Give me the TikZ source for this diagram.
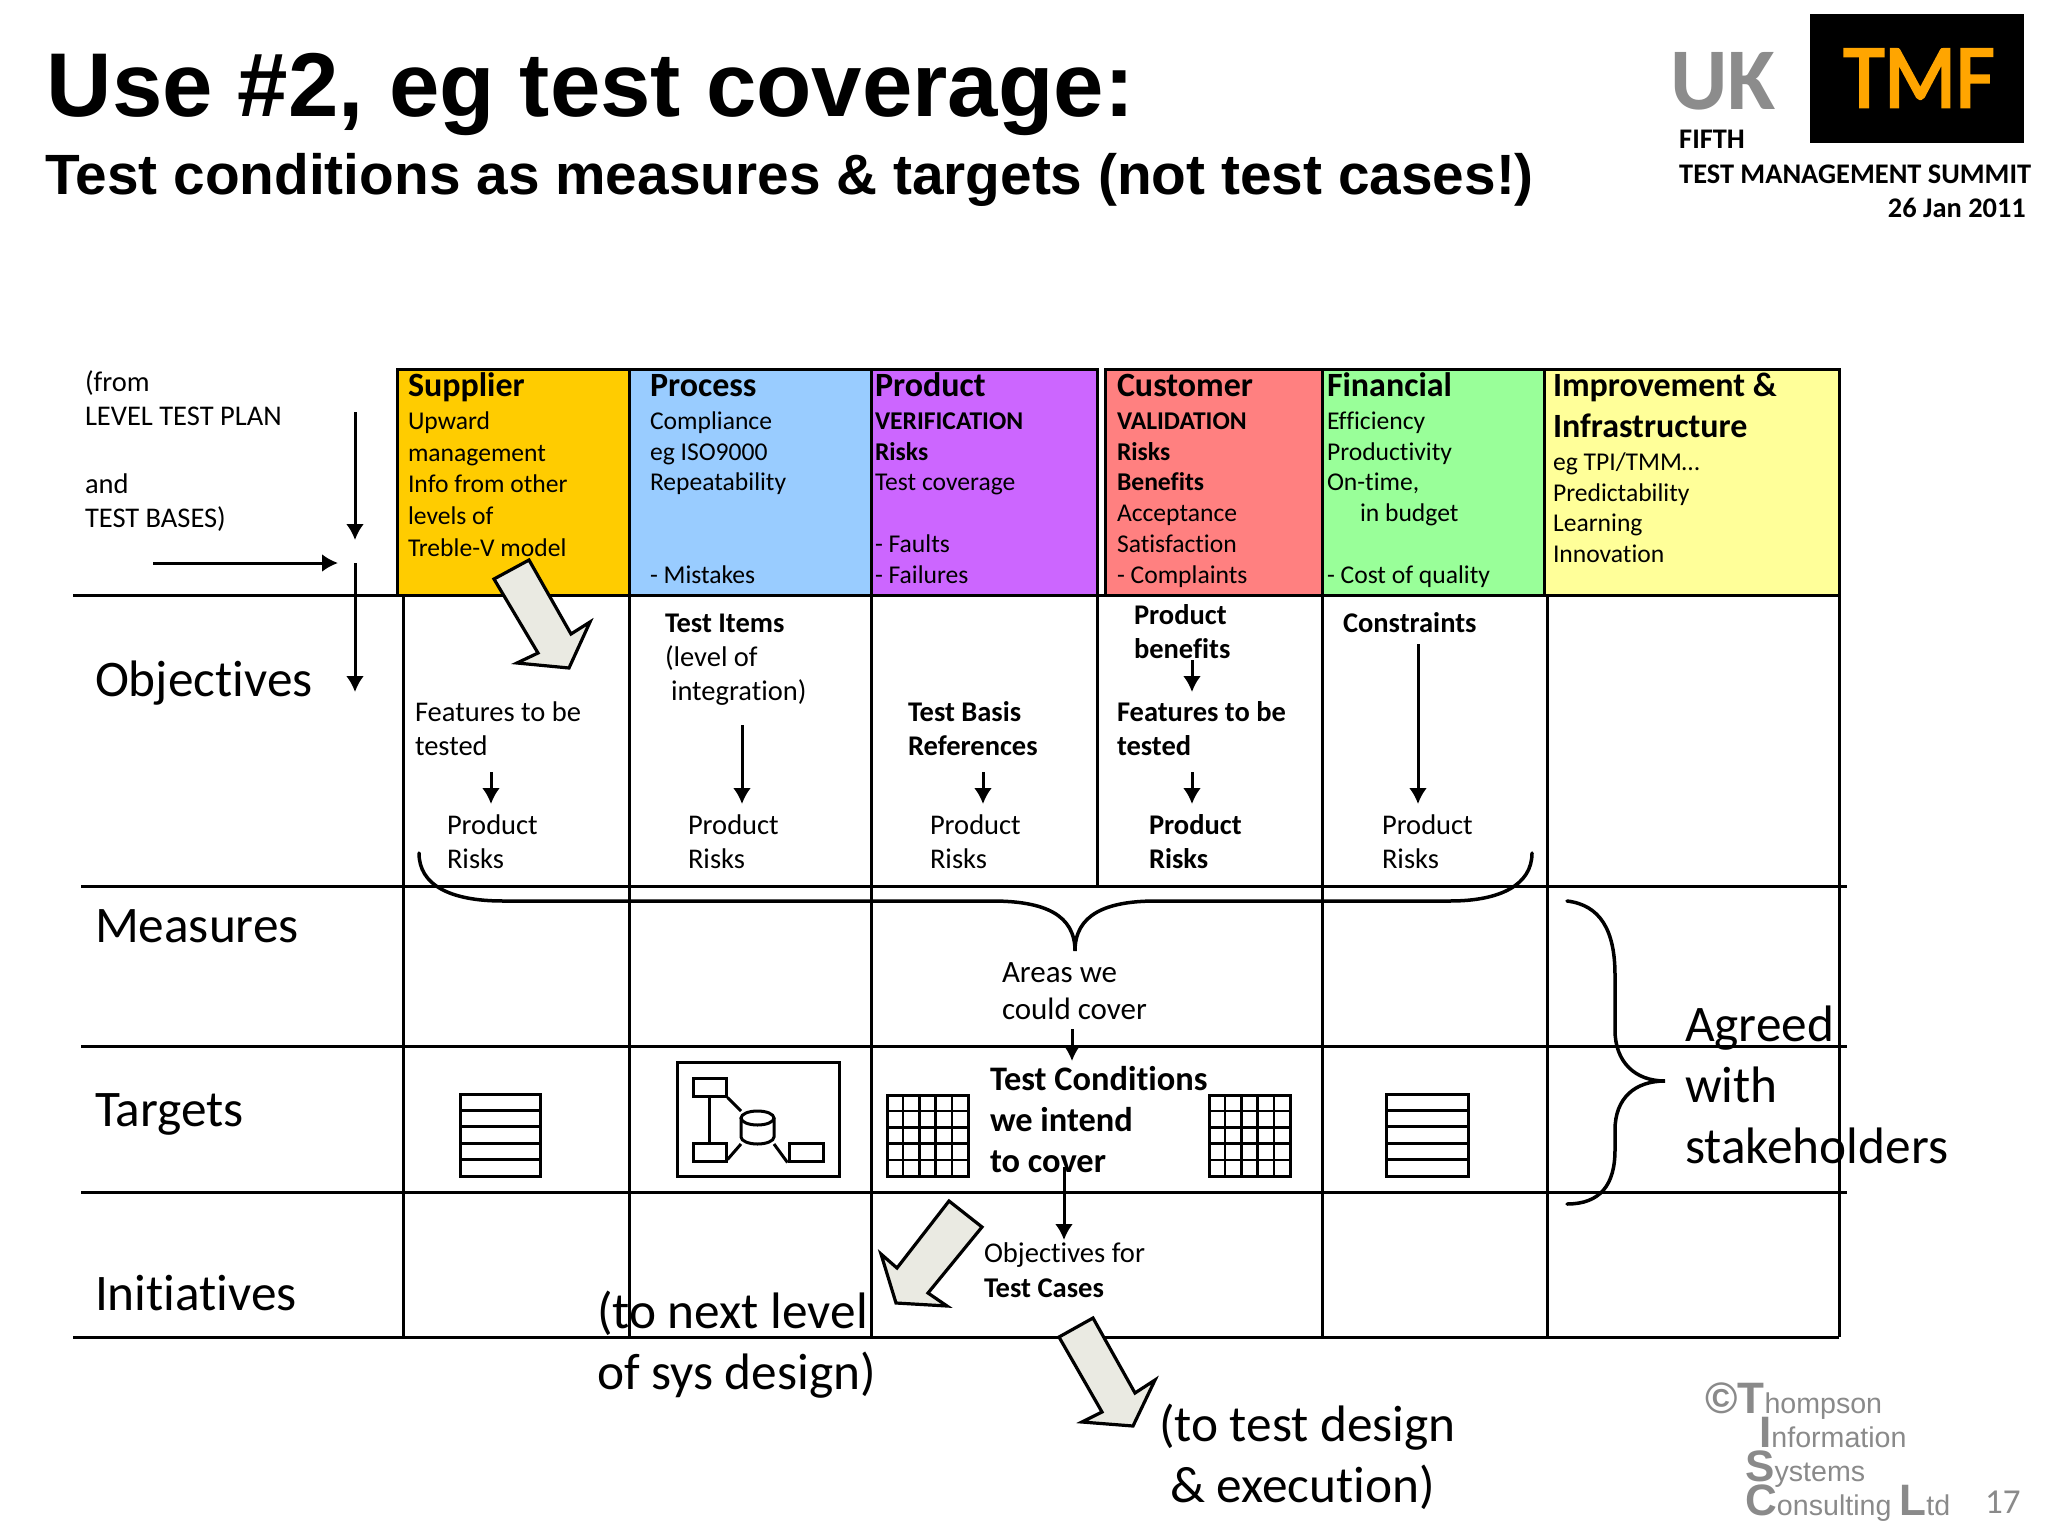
\documentclass[tikz,border=0pt]{standalone}
\usepackage{fontspec}
\setmainfont{Carlito}[Ligatures=NoCommon]
\newfontfamily\arialf{Liberation Sans}
\usetikzlibrary{arrows.meta}
\newcommand\fl{\rule{0pt}{\flh}}
\tikzset{
  x=1pt,y=-1pt,
  txt/.style={inner sep=0pt,outer sep=0pt,anchor=north west,align=left},
  cell/.style={txt,yshift=26.6pt,font=\fontsize{28.5}{34}\selectfont,execute at begin node={\def\flh{28pt}\fl}},
  hsub/.style={txt,yshift=24.7pt,font=\fontsize{25.6}{30.8}\selectfont,execute at begin node={\def\flh{26pt}\fl}},
  hbold/.style={txt,yshift=32.7pt,font=\fontsize{34}{41}\selectfont\bfseries,execute at begin node={\def\flh{34pt}\fl}},
  big/.style={txt,yshift=50pt,font=\fontsize{51.3}{61}\selectfont,execute at begin node={\def\flh{50pt}\fl}},
  tc/.style={txt,yshift=31.7pt,font=\fontsize{34.4}{41}\selectfont\bfseries,execute at begin node={\def\flh{34pt}\fl}},
  areas/.style={txt,yshift=29.5pt,font=\fontsize{31}{37}\selectfont,execute at begin node={\def\flh{32pt}\fl}},
  objc/.style={txt,yshift=26pt,font=\fontsize{28.6}{35}\selectfont,execute at begin node={\def\flh{28pt}\fl}},
  hbox/.style={draw=black,line width=3pt},
  gridl/.style={draw=black,line width=3pt},
  conn/.style={draw=black,line width=3pt,-{Latex[length=16pt,width=18pt]}},
  fat/.style={draw=black,line width=3.2pt,fill=arrowfill,line join=miter},
  icon/.style={draw=black,line width=3pt},
  brace/.style={draw=black,line width=3.5pt,line cap=round},
  gray1/.style={text=logogray},
}
\definecolor{arrowfill}{HTML}{EAEAE2}
\definecolor{logogray}{HTML}{8A8A8A}
\definecolor{tmfo}{HTML}{FFA500}
\definecolor{csup}{HTML}{FFCC00}
\definecolor{cpro}{HTML}{99CCFF}
\definecolor{cprd}{HTML}{CC66FF}
\definecolor{ccus}{HTML}{FF8080}
\definecolor{cfin}{HTML}{99FF99}
\definecolor{cimp}{HTML}{FFFF99}
\begin{document}
\begin{tikzpicture}
\useasboundingbox (0,0) rectangle (2048,1536);
\fill[white] (0,0) rectangle (2048,1536);
% title
\node[inner sep=0pt,anchor=base west] (title) at (46.5,117) {\fontsize{90.6}{100}\selectfont\arialf\bfseries Use \#2, eg test coverage:};
\node[inner sep=0pt,anchor=base west] (subtitle) at (45,194) {\fontsize{56.8}{70}\selectfont\arialf\bfseries Test conditions as measures \& targets (not test cases!)};
% logo
\node[inner sep=0pt,anchor=base west,text=gray!90] (uk) at (1670,110) {\fontsize{88}{90}\selectfont\bfseries UK};
\fill[black] (1810,14) rectangle (2024,143);
\node[inner sep=0pt,anchor=base,text=tmfo] (tmf) at (1919,107) {\scalebox{0.93}[1]{\fontsize{90}{90}\selectfont\addfontfeature{FakeBold=3}TMF}};
\node[inner sep=0pt,anchor=base west] (fifth) at (1679,149) {\fontsize{28.4}{30}\selectfont\bfseries FIFTH};
\node[inner sep=0pt,anchor=base west] (summit) at (1679,183) {\fontsize{28.4}{30}\selectfont\bfseries TEST MANAGEMENT SUMMIT};
\node[inner sep=0pt,anchor=base east] (date) at (2026,217) {\fontsize{28.4}{30}\selectfont\bfseries 26 Jan 2011};
% headers
\draw[hbox,fill=csup] (397,369) rectangle (629,595);
\draw[hbox,fill=cpro] (629,369) rectangle (871,595);
\draw[hbox,fill=cprd] (871,369) rectangle (1097,595);
\draw[hbox,fill=ccus] (1105,369) rectangle (1322,595);
\draw[hbox,fill=cfin] (1322,369) rectangle (1544,595);
\draw[hbox,fill=cimp] (1544,369) rectangle (1839,595);
% grid
\draw[gridl] (73,595) -- (1839,595);
\draw[gridl] (81,886) -- (1847,886);
\draw[gridl] (81,1046) -- (1847,1046);
\draw[gridl] (81,1192) -- (1847,1192);
\draw[gridl] (73,1337) -- (1839,1337);
\draw[gridl] (403,595) -- (403,1337);
\draw[gridl] (629,595) -- (629,1337);
\draw[gridl] (871,595) -- (871,1337);
\draw[gridl] (1097,595) -- (1097,886);
\draw[gridl] (1322,595) -- (1322,1337);
\draw[gridl] (1547,595) -- (1547,1337);
\draw[gridl] (1839,595) -- (1839,1337);
% header texts
\node[hbold] (h1) at (408,395) {Supplier};
\node[hsub,font=\fontsize{25.6}{31.8}\selectfont] (h1t) at (408,428) {\fl Upward\\management\\Info from other\\levels of\\Treble-V model};
\node[hbold] (h2) at (650,395) {Process};
\node[hsub] (h2t) at (650,428) {\fl Compliance\\eg ISO9000\\Repeatability\\[61.6pt]- Mistakes};
\node[hbold] (h3) at (875,395) {Product};
\node[hsub] (h3t) at (875,428) {\fl\textbf{VERIFICATION}\\\textbf{Risks}\\Test coverage\\[30.8pt]- Faults\\- Failures};
\node[hbold] (h4) at (1117,395) {Customer};
\node[hsub] (h4t) at (1117,428) {\fl\textbf{VALIDATION}\\\textbf{Risks}\\\textbf{Benefits}\\Acceptance\\Satisfaction\\- Complaints};
\node[hbold] (h5) at (1327,395) {Financial};
\node[hsub] (h5t) at (1327,428) {\fl Efficiency\\Productivity\\On-time,\\\hspace*{33pt}in budget\\[30.8pt]- Cost of quality};
\node[hbold] (h6) at (1553,395) {\fl Improvement \&\\Infrastructure};
\node[hsub] (h6t) at (1553,469) {\fl eg TPI/TMM…\\Predictability\\Learning\\Innovation};
% left texts
\node[cell] (from) at (85,390) {\fl (from\\LEVEL TEST PLAN\\[34pt]and\\TEST BASES)};
\node[big] (obj) at (95,696) {Objectives};
\node[big] (mea) at (95,942) {Measures};
\node[big] (tar) at (95,1126) {Targets};
\node[big] (ini) at (95,1310) {Initiatives};
% cell texts
\node[cell] (f1) at (415,720) {\fl Features to be\\tested};
\node[cell] (p1) at (447,833) {\fl Product\\Risks};
\node[cell] (ti) at (665,631) {\fl\textbf{Test Items}\\(level of\\\hspace*{6pt}integration)};
\node[cell] (p2) at (688,833) {\fl Product\\Risks};
\node[cell] (tb) at (908,720) {\fl\textbf{Test Basis}\\\textbf{References}};
\node[cell] (p3) at (930,833) {\fl Product\\Risks};
\node[cell] (pb) at (1134,623) {\fl\textbf{Product}\\\textbf{benefits}};
\node[cell] (f4) at (1117,720) {\fl\textbf{Features to be}\\\textbf{tested}};
\node[cell] (p4) at (1149,833) {\fl\textbf{Product}\\\textbf{Risks}};
\node[cell] (con) at (1343,631) {\textbf{Constraints}};
\node[cell] (p5) at (1382,833) {\fl Product\\Risks};
\node[areas] (areas) at (1002,980) {\fl Areas we\\could cover};
\node[tc] (tcond) at (990,1088) {\fl Test Conditions\\we intend\\to cover};
\node[objc] (objtc) at (984,1260) {\fl Objectives for\\\textbf{Test Cases}};
\node[big] (next) at (597,1328.5) {\fl (to next level\\of sys design)};
\node[big] (exec) at (1159,1441.5) {\fl (to test design\\\hspace*{11pt}\& execution)};
\node[big] (agreed) at (1685,1041) {\fl Agreed\\with\\stakeholders};
% icons
\draw[icon] (460,1094) rectangle (540,1176);
\foreach \yy in {1110.4,1126.8,1143.2,1159.6} \draw[icon] (460,\yy) -- (540,\yy);
\draw[icon] (677,1062) rectangle (839,1176);
\node[icon,draw,rectangle,minimum width=33pt,minimum height=18pt,inner sep=0pt] (ba) at (709.5,1087) {};
\node[icon,draw,rectangle,minimum width=33pt,minimum height=18pt,inner sep=0pt] (bb) at (709.5,1152) {};
\node[icon,draw,rectangle,minimum width=34pt,minimum height=18pt,inner sep=0pt] (bc) at (806,1152) {};
\draw[icon] (741,1118) -- (741,1137) arc[x radius=16.5,y radius=7,start angle=180,end angle=0] -- (774,1118);
\draw[icon] (757.5,1118) ellipse[x radius=16.5,y radius=7];
\coordinate (cyla) at (741,1111);
\coordinate (cylb) at (741,1144);
\coordinate (cylc) at (774,1144);
\draw[icon] (ba.south) -- (bb.north);
\draw[icon] (ba.south east) -- (cyla);
\draw[icon] ([yshift=3pt]bb.south east) -- (cylb);
\draw[icon] (bc.south west) -- (cylc);
\foreach \ox in {887,1209} {
  \draw[icon] (\ox,1095) rectangle ++(81,81);
  \foreach \i in {1,2,3,4} {
    \draw[line width=2.5pt] (\ox+\i*16.2,1095) -- (\ox+\i*16.2,1176);
    \draw[line width=2.5pt] (\ox,1095+\i*16.2) -- (\ox+81,1095+\i*16.2);
  }
}
\draw[icon] (1386,1094) rectangle (1468,1176);
\foreach \yy in {1110.4,1126.8,1143.2,1159.6} \draw[icon] (1386,\yy) -- (1468,\yy);
% connector ends
\coordinate (a1s) at (355,412); \coordinate (a1e) at (355,540);
\coordinate (a2s) at (153,563); \coordinate (a2e) at (338,563);
\coordinate (a3s) at (355,563); \coordinate (a3e) at (355,692);
\coordinate (c1s) at (491,772); \coordinate (c1e) at (491,804);
\coordinate (c2s) at (742,725); \coordinate (c2e) at (742,804);
\coordinate (c3s) at (983,772); \coordinate (c3e) at (983,804);
\coordinate (c4s) at (1192,660); \coordinate (c4e) at (1192,692);
\coordinate (c5s) at (1192,772); \coordinate (c5e) at (1192,804);
\coordinate (c6s) at (1418,644); \coordinate (c6e) at (1418,804);
\coordinate (c7s) at (1072,1029); \coordinate (c7e) at (1072,1061);
\coordinate (c8s) at (1064,1167); \coordinate (c8e) at (1064,1240);
\foreach \n in {a1,a2,a3,c1,c2,c3,c4,c5,c6,c7,c8} \draw[conn] (\n s) -- (\n e);
% braces
\draw[brace] (419,853) .. controls (419,885) and (450,901) .. (503,901) -- (992,901) .. controls (1045,901) and (1075,915) .. (1075,951) .. controls (1075,915) and (1105,901) .. (1156,901) -- (1450,901) .. controls (1500,901) and (1532,885) .. (1532,853);
\draw[brace] (1567,901) .. controls (1600,905) and (1615,930) .. (1615,975) -- (1615,1030) .. controls (1615,1062) and (1635,1081) .. (1665,1081) .. controls (1635,1081) and (1615,1098) .. (1615,1130) -- (1615,1150) .. controls (1615,1185) and (1600,1204) .. (1567,1204);
% fat arrows
\draw[fat] (529,560) -- (494,579) -- (538,653) -- (517,663) -- (569,668) -- (590,622) -- (571,634) -- cycle;
\draw[fat] (949,1201) -- (982,1227) -- (928,1293) -- (947,1306) -- (896,1303) -- (881,1254) -- (897,1268) -- cycle;
\draw[fat] (1093,1318) -- (1059,1337) -- (1102,1412) -- (1082,1422) -- (1133,1426) -- (1155,1380) -- (1135,1393) -- cycle;
% footer
\node[gray1,inner sep=0pt,anchor=base west] (l1) at (1705,1413) {\arialf\fontsize{44}{44}\selectfont\bfseries ©T\fontsize{28.6}{28}\selectfont\mdseries hompson};
\node[gray1,inner sep=0pt,anchor=base west] (l2) at (1759,1447) {\arialf\fontsize{44}{44}\selectfont\bfseries I\fontsize{28.6}{28}\selectfont\mdseries nformation};
\node[gray1,inner sep=0pt,anchor=base west] (l3) at (1745,1481) {\arialf\fontsize{44}{44}\selectfont\bfseries S\fontsize{28.6}{28}\selectfont\mdseries ystems};
\node[gray1,inner sep=0pt,anchor=base west] (l4) at (1745,1515) {\arialf\fontsize{44}{44}\selectfont\bfseries C\fontsize{28.6}{28}\selectfont\mdseries onsulting \fontsize{44}{44}\selectfont\bfseries L\fontsize{28.6}{28}\selectfont\mdseries td};
\node[gray1,inner sep=0pt,anchor=base west] (pg) at (1985,1513) {\fontsize{35}{35}\selectfont 17};
\end{tikzpicture}
\end{document}
